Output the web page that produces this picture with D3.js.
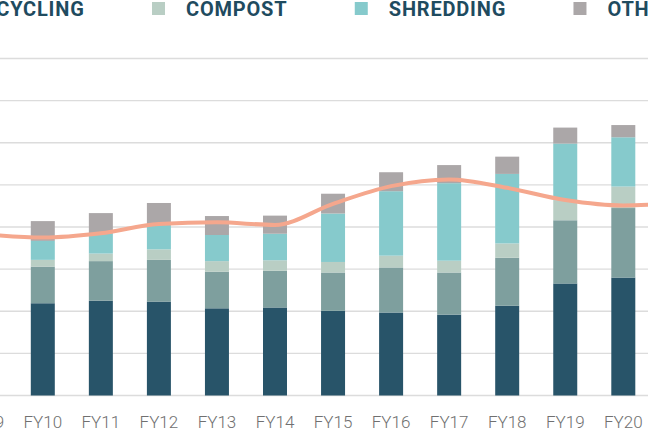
<!DOCTYPE html>
<html>
<head>
<meta charset="utf-8">
<script src="https://cdn.jsdelivr.net/npm/d3@7"></script>
<style>
  html, body { margin: 0; padding: 0; background: #fff; }
  svg { display: block; }
</style>
</head>
<body>
<div id="chart"></div>
<script>
// ---------------- data ----------------
const categories = ["FY09","FY10","FY11","FY12","FY13","FY14","FY15","FY16","FY17","FY18","FY19","FY20","FY21"];
const seriesNames = ["LANDFILL","RECYCLING","COMPOST","SHREDDING","OTHER"];
// stacked bar values (bottom to top); FY09 / FY21 bars lie outside the visible window
const landfill  = [null,21.9,22.5,22.3,20.7,20.9,20.1,19.7,19.2,21.3,26.6,28.0,null];
const recycling = [null, 8.7, 9.4, 9.9, 8.7, 8.7, 9.1,10.7,10.0,11.4,15.0,16.5,null];
const compost   = [null, 1.6, 1.8, 2.5, 2.5, 2.5, 2.5, 2.8, 2.8, 3.4, 4.7, 5.1,null];
const shredding = [null, 4.5, 4.7, 5.8, 6.2, 6.3,11.5,15.3,18.4,16.5,13.5,11.7,null];
const other     = [null, 4.7, 4.9, 5.2, 4.5, 4.3, 4.7, 4.5, 4.3, 4.1, 3.8, 2.9,null];
// trend line values
const lineValues = [38.3,37.5,38.5,40.7,41.1,40.5,45.5,49.7,51.3,49.3,46.4,45.1,45.7];
const yTicks = [0,10,20,30,40,50,60,70,80];

// ---------------- styles ----------------
const colors = ["#285469","#7e9f9e","#b9cec4","#86cacc","#aba7a8"];
const W = 648, H = 432;

const svg = d3.select("#chart").append("svg")
  .attr("width", W).attr("height", H);

const step = 58.05;
const firstCenter = 42.8 - step;
const x = d3.scaleBand()
  .domain(categories)
  .range([firstCenter - step/2, firstCenter - step/2 + step*categories.length])
  .paddingInner(1 - 24/step)
  .paddingOuter((1 - 24/step)/2);

const y = d3.scaleLinear().domain([0, 80]).range([395.5, 58.5]);

// gridlines
svg.append("g").selectAll("line").data(yTicks).join("line")
  .attr("x1", 0).attr("x2", W)
  .attr("y1", d => y(d)).attr("y2", d => y(d))
  .attr("stroke", "#dcdcdc").attr("stroke-width", 1.3);

// stacked bars
const seriesArrays = [landfill, recycling, compost, shredding, other];
const rows = categories.map((c, i) => {
  const r = { cat: c };
  seriesNames.forEach((s, k) => r[s] = seriesArrays[k][i]);
  return r;
}).filter(r => r.LANDFILL !== null);

const stack = d3.stack().keys(seriesNames);
const stacked = stack(rows);

svg.append("g").selectAll("g").data(stacked).join("g")
  .attr("fill", (d, i) => colors[i])
  .selectAll("rect").data(d => d).join("rect")
  .attr("x", d => x(d.data.cat))
  .attr("width", x.bandwidth())
  .attr("y", d => y(d[1]))
  .attr("height", d => y(d[0]) - y(d[1]));

// trend line
const line = d3.line()
  .x((d, i) => x(categories[i]) + x.bandwidth()/2)
  .y(d => y(d))
  .curve(d3.curveMonotoneX);

svg.append("path")
  .datum(lineValues)
  .attr("d", line)
  .attr("fill", "none")
  .attr("stroke", "#f5a78d")
  .attr("stroke-width", 4)
  .attr("stroke-linecap", "round");

// x axis labels
const xAxis = d3.axisBottom(x).tickSize(0).tickPadding(0);
const gx = svg.append("g").call(xAxis);
gx.select(".domain").remove();
gx.selectAll("text")
  .attr("y", 427.5)
  .attr("dy", null)
  .attr("fill", "#707070")
  .style("font-family", "Roboto, sans-serif")
  .style("font-weight", 300)
  .style("font-size", "17px");

// legend
const lg = svg.append("g");
const items = lg.selectAll("g").data(seriesNames).join("g");
items.append("rect")
  .attr("width", 13).attr("height", 13)
  .attr("y", 2)
  .attr("fill", (d, i) => colors[i]);
items.append("text")
  .text(d => d)
  .attr("x", 34)
  .attr("y", 16)
  .attr("fill", "#1f4b5f")
  .style("font-family", "Roboto, sans-serif")
  .style("font-weight", 700)
  .style("font-size", "20px")
  .style("letter-spacing", "0.8px");

const widths = [];
items.each(function() { widths.push(d3.select(this).select("text").node().getComputedTextLength()); });
const itemW = widths.map(w => 34 + w + 67.4);
const anchorIdx = seriesNames.indexOf("COMPOST");
const anchorX = 152;
const xs = [];
xs[anchorIdx] = anchorX;
for (let i = anchorIdx + 1; i < seriesNames.length; i++) xs[i] = xs[i-1] + itemW[i-1];
for (let i = anchorIdx - 1; i >= 0; i--) xs[i] = xs[i+1] - itemW[i];
items.attr("transform", (d, i) => `translate(${xs[i]},0)`);
</script>
</body>
</html>
